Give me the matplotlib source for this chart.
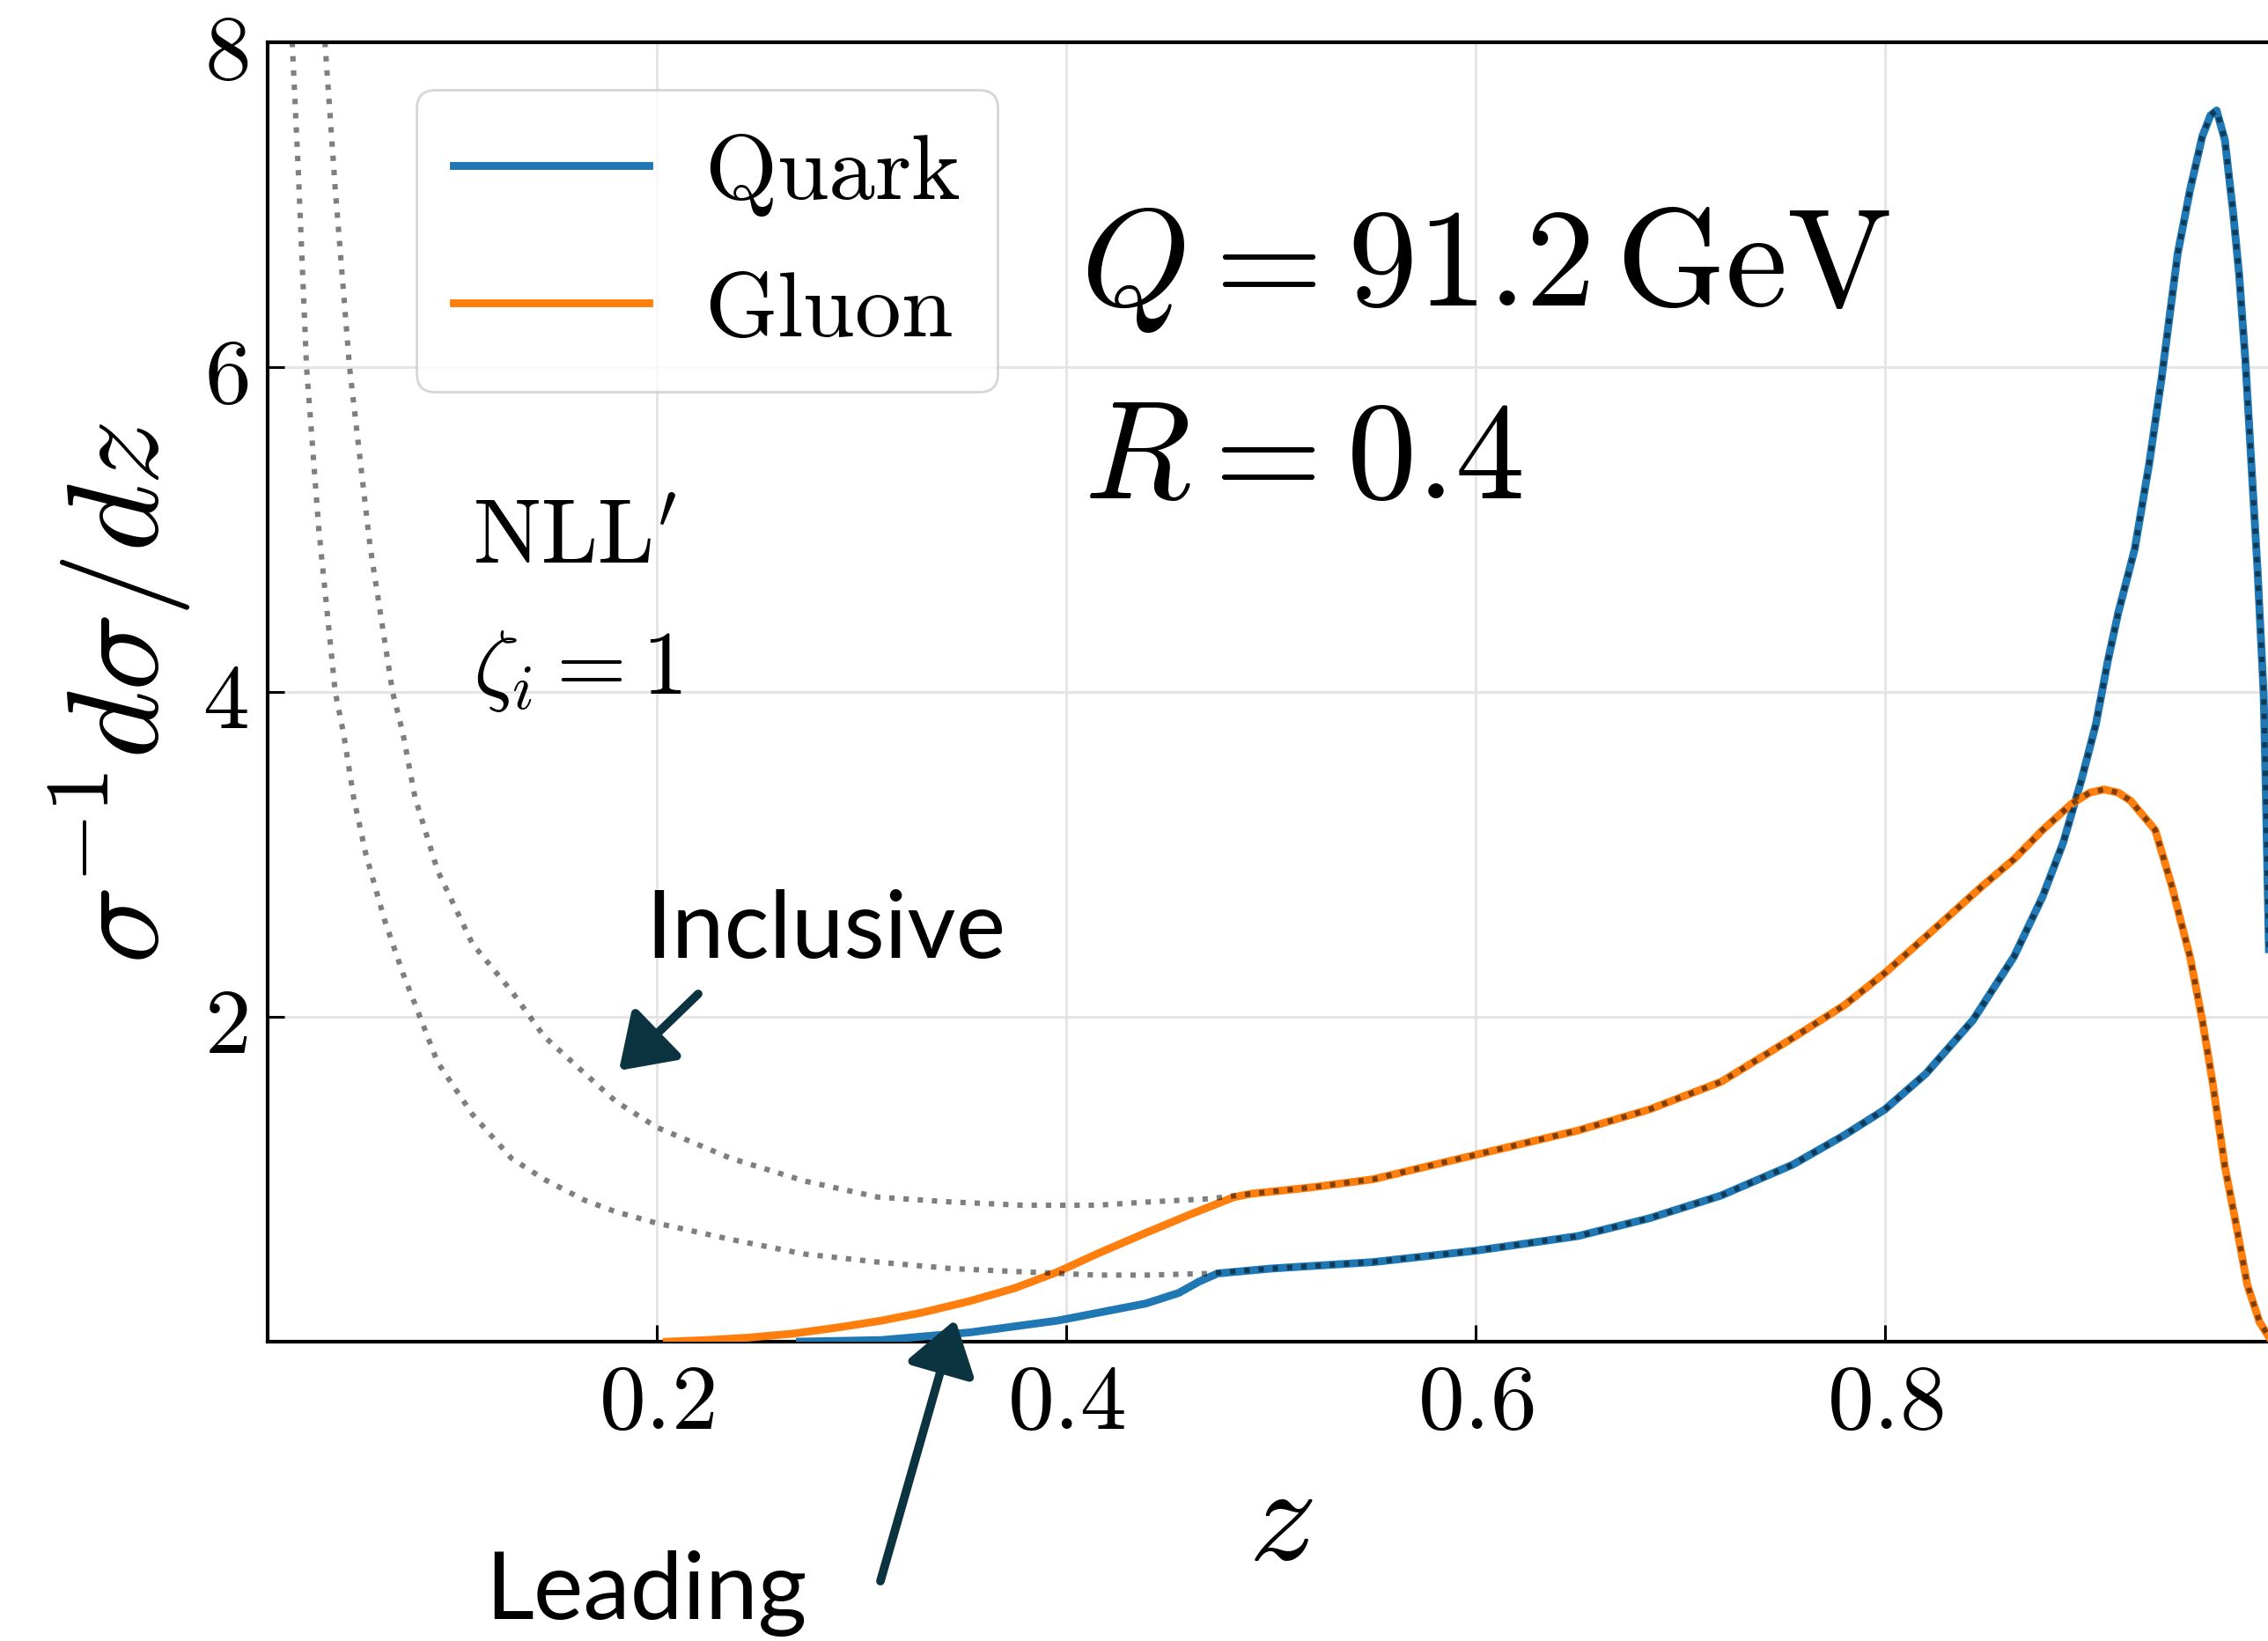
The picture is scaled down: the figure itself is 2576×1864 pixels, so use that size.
import matplotlib
matplotlib.use('Agg')
import matplotlib.pyplot as plt
from matplotlib.patches import FancyArrowPatch

plt.rcParams['mathtext.fontset'] = 'cm'
plt.rcParams['font.family'] = ['DejaVu Serif']

# ---------------- data ----------------
quark_incl_z = [0.020, 0.022, 0.025, 0.029, 0.035, 0.043, 0.047, 0.052, 0.058, 0.067,
                0.076, 0.085, 0.093, 0.110, 0.129, 0.145, 0.165, 0.180, 0.200, 0.236,
                0.272, 0.308, 0.344, 0.379, 0.415, 0.440, 0.470, 0.500, 0.550, 0.600,
                0.650, 0.685, 0.720, 0.755, 0.780, 0.800, 0.820, 0.843, 0.863, 0.877,
                0.887, 0.896, 0.903, 0.909, 0.914, 0.922, 0.929, 0.935, 0.939, 0.943,
                0.949, 0.955, 0.959, 0.962, 0.966, 0.970, 0.973, 0.976, 0.979, 0.982,
                0.985, 0.986, 0.988, 0.991, 0.994, 0.997, 1.000]
quark_incl_y = [8.60, 8.00, 7.20, 6.00, 5.00, 4.00, 3.75, 3.35, 3.00, 2.60,
                2.27, 1.98, 1.72, 1.40, 1.13, 1.00, 0.87, 0.80, 0.73, 0.63,
                0.54, 0.49, 0.45, 0.43, 0.41, 0.41, 0.42, 0.45, 0.49, 0.56,
                0.65, 0.76, 0.90, 1.09, 1.27, 1.43, 1.65, 1.98, 2.37, 2.74,
                3.07, 3.46, 3.80, 4.20, 4.49, 4.88, 5.40, 5.92, 6.31, 6.70,
                7.09, 7.42, 7.55, 7.58, 7.40, 6.96, 6.57, 6.05, 5.40, 4.75,
                3.98, 3.41, 2.11, 1.20, 0.50, 0.10, 0.00]

gluon_incl_z = [0.036, 0.038, 0.043, 0.050, 0.060, 0.071, 0.076, 0.082, 0.093, 0.110,
                0.129, 0.145, 0.165, 0.180, 0.200, 0.236, 0.272, 0.308, 0.344, 0.379,
                0.415, 0.440, 0.470, 0.490, 0.520, 0.550, 0.600, 0.650, 0.685, 0.720,
                0.755, 0.780, 0.800, 0.825, 0.848, 0.863, 0.877, 0.891, 0.900, 0.907,
                0.914, 0.920, 0.932, 0.940, 0.949, 0.955, 0.960, 0.966, 0.972, 0.977,
                0.983, 0.988, 0.995]
gluon_incl_y = [8.50, 8.00, 7.10, 6.00, 4.90, 4.00, 3.75, 3.35, 2.90, 2.45,
                2.16, 1.88, 1.65, 1.48, 1.32, 1.13, 0.99, 0.89, 0.86, 0.84,
                0.84, 0.86, 0.88, 0.91, 0.95, 1.00, 1.15, 1.30, 1.43, 1.60,
                1.87, 2.07, 2.27, 2.55, 2.81, 2.97, 3.15, 3.31, 3.38, 3.40,
                3.38, 3.33, 3.15, 2.81, 2.37, 1.98, 1.60, 1.08, 0.69, 0.35,
                0.12, 0.02, 0.00]

# leading-jet curves below the point where they join the inclusive ones
quark_lead_z = [0.270, 0.310, 0.353, 0.396, 0.439, 0.455, 0.465, 0.474]
quark_lead_y = [0.00, 0.01, 0.057, 0.13, 0.235, 0.30, 0.37, 0.42]
gluon_lead_z = [0.205, 0.225, 0.245, 0.267, 0.290, 0.310, 0.330, 0.353, 0.375, 0.396,
                0.415, 0.439, 0.460, 0.482]
gluon_lead_y = [0.00, 0.01, 0.025, 0.05, 0.09, 0.13, 0.18, 0.25, 0.33, 0.43,
                0.54, 0.67, 0.78, 0.89]

x_ticks = [0.2, 0.4, 0.6, 0.8]
y_ticks = [2, 4, 6, 8]

# full leading curves = low-z leading part + inclusive part above the join
q_z = quark_lead_z + [z for z in quark_incl_z if z > quark_lead_z[-1]]
q_y = quark_lead_y + [y for z, y in zip(quark_incl_z, quark_incl_y) if z > quark_lead_z[-1]]
g_z = gluon_lead_z + [z for z in gluon_incl_z if z > gluon_lead_z[-1]]
g_y = gluon_lead_y + [y for z, y in zip(gluon_incl_z, gluon_incl_y) if z > gluon_lead_z[-1]]

# ---------------- figure ----------------
W, H, DPI = 2576, 1865, 200
fig = plt.figure(figsize=(W / DPI, H / DPI), dpi=DPI)
ax = fig.add_axes([304 / W, 1 - 1525 / H, 2302 / W, 1476 / H])

ax.plot(q_z, q_y, color='#1f77b4', lw=3.2, label=r'$\mathrm{Quark}$', zorder=3,
        solid_joinstyle='round')
ax.plot(g_z, g_y, color='#ff7f0e', lw=3.2, label=r'$\mathrm{Gluon}$', zorder=3,
        solid_joinstyle='round')
ax.plot(quark_incl_z, quark_incl_y, ls=':', color='k', alpha=0.5, lw=2.2, zorder=4)
ax.plot(gluon_incl_z, gluon_incl_y, ls=':', color='k', alpha=0.5, lw=2.2, zorder=4)

ax.set_xlim(0.01, 1.0)
ax.set_ylim(0, 8)
ax.set_xticks(x_ticks, labels=[f'${t}$' for t in x_ticks])
ax.set_yticks(y_ticks, labels=[f'${t}$' for t in y_ticks])
ax.tick_params(direction='in', length=6.8, width=1.1, labelsize=38)
ax.tick_params(axis='x', pad=6)
ax.tick_params(axis='y', pad=8)
ax.grid(True, color='#e4e4e4', lw=1.0)
ax.set_axisbelow(True)
for s in ax.spines.values():
    s.set_linewidth(1.5)

ax.set_xlabel(r'$z$', fontsize=55)
ax.set_ylabel(r'$\sigma^{-1} d\sigma/dz$', fontsize=53)
ax.xaxis.set_label_coords(0.5, -0.088)
ax.yaxis.set_label_coords(-0.037, 0.5)

ax.legend(loc='upper left', bbox_to_anchor=(0.0734, 0.9634), borderaxespad=0,
          fontsize=38, framealpha=0.8, edgecolor='0.8', fancybox=True,
          handletextpad=0.6, handlelength=2.1)

ax.text(0.407, 6.385, r'$Q = 91.2\,\mathrm{GeV}$', fontsize=57, va='baseline', ha='left')
ax.text(0.4086, 5.20, r'$R = 0.4$', fontsize=57, va='baseline', ha='left')
ax.text(0.110, 4.80, r'$\mathrm{NLL}^\prime$', fontsize=37, va='baseline', ha='left')
ax.text(0.110, 3.995, r'$\zeta_i = 1$', fontsize=37, va='baseline', ha='left')

# hand annotations
ann_color = '#0b3340'
fig.text(733 / W, 1 - 1088 / H, 'Inclusive', fontsize=38.5, family=['Lato', 'DejaVu Sans'],
         va='baseline', ha='left', color='black')
fig.text(551 / W, 1 - 1839 / H, 'Leading', fontsize=38.5, family=['Lato', 'DejaVu Sans'],
         va='baseline', ha='left', color='black')
for tail, tip in [((793, 1130), (703, 1217)), ((1000, 1797), (1085, 1500))]:
    arr = FancyArrowPatch((tail[0] / W, 1 - tail[1] / H), (tip[0] / W, 1 - tip[1] / H),
                          transform=fig.transFigure, arrowstyle='-|>,head_length=0.4,head_width=0.27',
                          mutation_scale=45, lw=3.5, color=ann_color, shrinkA=0, shrinkB=0)
    fig.add_artist(arr)

fig.savefig('out.png', dpi=DPI)
